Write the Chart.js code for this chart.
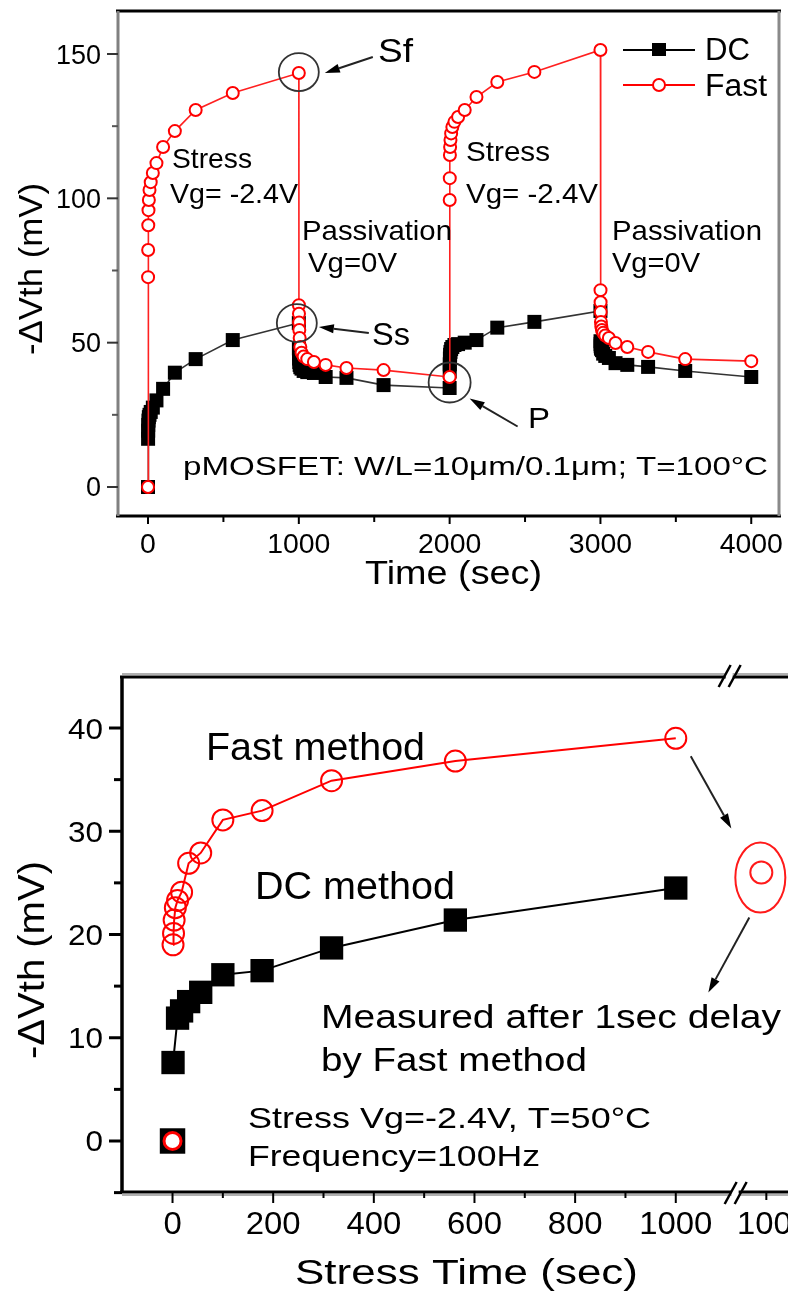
<!DOCTYPE html>
<html>
<head>
<meta charset="utf-8">
<title>NBTI recovery</title>
<script src="https://cdn.jsdelivr.net/npm/chart.js@4.4.1/dist/chart.umd.min.js"></script>
<style>
  html, body { margin: 0; padding: 0; background: #fff; }
  body { width: 788px; height: 1295px; position: relative; overflow: hidden; }
  canvas { position: absolute; left: 0; }
  #cycleChart { top: 0; }
  #stressChart { top: 600px; }
</style>
</head>
<body>
<canvas id="cycleChart" width="788" height="600"></canvas>
<canvas id="stressChart" width="788" height="695"></canvas>
<script>
// ---- upper panel: two stress / passivation cycles, T=100C ----
// every phase lasts 1000 s, points are taken on a log-like grid inside each phase
const phaseStarts = [0, 1000, 2000, 3000];
const phaseOffsets = [0.5, 1, 1.8, 3.2, 5.6, 10, 18, 32, 56, 100, 178, 316, 562, 1000];

const fastStress1 = [72.7, 82.1, 90.7, 95.9, 99.4, 102.9, 105.6, 108.8, 112.2, 117.8, 123.3, 130.6, 136.5, 143.4];
const fastPassiv1 = [63.0, 60.0, 57.0, 54.4, 51.6, 48.5, 46.5, 45.2, 44.3, 43.3, 42.3, 41.2, 40.5, 38.1];
const fastStress2 = [99.4, 107.0, 115.0, 117.8, 120.2, 122.5, 124.7, 126.5, 128.2, 130.6, 135.1, 140.3, 143.8, 151.4];
const fastPassiv2 = [68.2, 64.0, 60.6, 57.2, 55.6, 54.4, 53.4, 52.5, 51.6, 49.9, 48.5, 46.8, 44.3, 43.6];

const dcStress1 = [16.7, 19.5, 21.5, 23.0, 24.2, 25.0, 26.0, 27.5, 30.0, 34.0, 39.6, 44.3, 50.9, 56.8];
const dcPassiv1 = [48.0, 46.0, 44.5, 43.3, 42.3, 41.5, 41.0, 40.2, 39.8, 39.5, 38.1, 37.8, 35.3, 34.3];
const dcStress2 = [40.0, 42.5, 44.5, 45.8, 46.8, 47.8, 48.5, 49.2, 49.5, 50.0, 50.9, 55.2, 57.2, 61.0];
const dcPassiv2 = [50.5, 49.5, 48.8, 48.2, 47.8, 47.4, 46.2, 45.4, 44.7, 42.9, 42.3, 41.6, 40.2, 38.1];

const cycleXTicks = [0, 1000, 2000, 3000, 4000];
const cycleXMinor = [500, 1500, 2500, 3500];
const cycleYTicks = [0, 50, 100, 150];
const cycleYMinor = [25, 75, 125];

// ---- lower panel: stress only, T=50C ----
const fastTime = [1, 2, 3.2, 5.6, 10, 18, 32, 56, 100, 178, 316, 562, 1000];
const fastShift = [19.0, 20.1, 21.4, 22.6, 23.3, 24.1, 26.9, 27.9, 31.1, 32.0, 34.9, 36.8, 39.0];
const dcTime = [1, 10, 18, 32, 56, 100, 178, 316, 562, 1000];
const dcShift = [7.6, 11.9, 12.6, 13.5, 14.4, 16.1, 16.5, 18.7, 21.4, 24.5];
const delayedTime = [1000];
const delayedShift = [26.0];
const startTime = [0];
const startShift = [0];

const stressXTicks = [0, 200, 400, 600, 800, 1000];
const stressXMinor = [100, 300, 500, 700, 900];
const stressYTicks = [0, 10, 20, 30, 40];
const stressYMinor = [-5, 5, 15, 25, 35];

// the delayed reading sits to the right of the axis break
const breakAt = 1113;
const breakShift = 170;

const FONT = '"Liberation Sans", Arial, Helvetica, sans-serif';

function phaseSeries(valuesByPhase) {
  const pts = [{ x: 0, y: 0 }];
  valuesByPhase.forEach((vals, p) => {
    vals.forEach((v, i) => pts.push({ x: phaseStarts[p] + phaseOffsets[i], y: v }));
  });
  return pts;
}

function pairs(xs, ys, shift) {
  return xs.map((t, i) => ({ x: t + (shift || 0), y: ys[i] }));
}

// text squeezed/stretched horizontally to a given width
function fitText(ctx, str, x, y, size, width, align) {
  ctx.save();
  ctx.font = size + 'px ' + FONT;
  ctx.textBaseline = 'alphabetic';
  ctx.textAlign = 'left';
  const w = ctx.measureText(str).width;
  const sx = width ? width / w : 1;
  const drawn = w * sx;
  let left = x;
  if (align === 'center') left = x - drawn / 2;
  if (align === 'right') left = x - drawn;
  ctx.translate(left, y);
  ctx.scale(sx, 1);
  ctx.fillStyle = '#000';
  ctx.fillText(str, 0, 0);
  ctx.restore();
}

function vTitle(ctx, str, baseX, centerY, size, length) {
  ctx.save();
  ctx.translate(baseX, centerY);
  ctx.rotate(-Math.PI / 2);
  fitText(ctx, str, 0, 0, size, length, 'center');
  ctx.restore();
}

function seg(ctx, x1, y1, x2, y2, w, color) {
  ctx.save();
  ctx.strokeStyle = color;
  ctx.lineWidth = w;
  ctx.beginPath();
  ctx.moveTo(x1, y1);
  ctx.lineTo(x2, y2);
  ctx.stroke();
  ctx.restore();
}

function arrow(ctx, x1, y1, x2, y2) {
  const a = Math.atan2(y2 - y1, x2 - x1);
  const len = 15, half = 4.5;
  const bx = x2 - len * Math.cos(a), by = y2 - len * Math.sin(a);
  seg(ctx, x1, y1, bx, by, 2, '#222');
  ctx.save();
  ctx.fillStyle = '#000';
  ctx.beginPath();
  ctx.moveTo(x2, y2);
  ctx.lineTo(bx + half * Math.sin(a), by - half * Math.cos(a));
  ctx.lineTo(bx - half * Math.sin(a), by + half * Math.cos(a));
  ctx.closePath();
  ctx.fill();
  ctx.restore();
}

function ring(ctx, cx, cy, rx, ry, w, color) {
  ctx.save();
  ctx.strokeStyle = color;
  ctx.lineWidth = w;
  ctx.beginPath();
  ctx.ellipse(cx, cy, rx, ry, 0, 0, Math.PI * 2);
  ctx.stroke();
  ctx.restore();
}

const cyclePlugin = {
  id: 'cycleDecor',
  afterDraw(chart) {
    const { ctx, chartArea: a, scales: { x, y } } = chart;

    // frame: black top/bottom, grey left/right
    seg(ctx, a.left - 2, a.top, a.right + 2, a.top, 3, '#000');
    seg(ctx, a.left - 2, a.bottom, a.right + 2, a.bottom, 3, '#000');
    seg(ctx, a.left, a.top, a.left, a.bottom, 3, '#808080');
    seg(ctx, a.right, a.top, a.right, a.bottom, 3, '#8a8a8a');

    cycleYTicks.forEach(v => {
      const py = y.getPixelForValue(v);
      seg(ctx, a.left - 11, py, a.left, py, 2, '#333');
      fitText(ctx, String(v), a.left - 17, py + 9.5, 27, String(v).length * 15, 'right');
    });
    cycleYMinor.forEach(v => {
      const py = y.getPixelForValue(v);
      seg(ctx, a.left - 6, py, a.left, py, 2, '#555');
    });
    cycleXTicks.forEach(v => {
      const px = x.getPixelForValue(v);
      seg(ctx, px, a.bottom, px, a.bottom + 8, 2, '#000');
      fitText(ctx, String(v), px, 553, 28, String(v).length * 15.8, 'center');
    });
    cycleXMinor.forEach(v => {
      const px = x.getPixelForValue(v);
      seg(ctx, px, a.bottom, px, a.bottom + 6, 2, '#000');
    });

    fitText(ctx, 'Time (sec)', 365, 584, 34, 177, 'left');
    vTitle(ctx, '-\u0394Vth (mV)', 42, 269, 34, 172);

    // legend
    seg(ctx, 623, 50, 695, 50, 2, '#000');
    ctx.fillStyle = '#000';
    ctx.fillRect(652, 43, 14, 13);
    fitText(ctx, 'DC', 705, 60, 31, 45, 'left');
    seg(ctx, 623, 85, 695, 85, 2, '#ff0000');
    ctx.save();
    ctx.fillStyle = '#fff';
    ctx.strokeStyle = '#ff0000';
    ctx.lineWidth = 2;
    ctx.beginPath();
    ctx.arc(659, 85, 6, 0, Math.PI * 2);
    ctx.fill();
    ctx.stroke();
    ctx.restore();
    fitText(ctx, 'Fast', 705, 96, 31, 62, 'left');

    // phase labels
    fitText(ctx, 'Stress', 172, 168, 28, 80, 'left');
    fitText(ctx, 'Vg= -2.4V', 170, 203, 28, 128, 'left');
    fitText(ctx, 'Passivation', 302, 240, 28, 150, 'left');
    fitText(ctx, 'Vg=0V', 308, 272, 28, 89, 'left');
    fitText(ctx, 'Stress', 466, 161, 28, 84, 'left');
    fitText(ctx, 'Vg= -2.4V', 466, 203, 28, 132, 'left');
    fitText(ctx, 'Passivation', 612, 240, 28, 150, 'left');
    fitText(ctx, 'Vg=0V', 612, 272, 28, 88, 'left');
    fitText(ctx, 'pMOSFET: W/L=10\u03bcm/0.1\u03bcm; T=100\u00b0C', 183, 475, 26, 585, 'left');

    // Sf: end of first stress, fast reading
    const sfx = x.getPixelForValue(1000), sfy = y.getPixelForValue(fastStress1[13]);
    ring(ctx, sfx, sfy - 1, 20, 19, 1.8, '#333');
    arrow(ctx, sfx + 74, sfy - 16, sfx + 26, sfy);
    fitText(ctx, 'Sf', 378, 62, 33, 35, 'left');

    // Ss: end of first stress, DC reading
    const ssx = x.getPixelForValue(1000), ssy = y.getPixelForValue(dcStress1[13]);
    ring(ctx, ssx - 2, ssy, 20, 19, 1.8, '#333');
    arrow(ctx, ssx + 70, ssy + 10, ssx + 20, ssy + 4);
    fitText(ctx, 'Ss', 372, 345, 32, 38, 'left');

    // P: end of first passivation
    const px = x.getPixelForValue(2000);
    const py = (y.getPixelForValue(fastPassiv1[13]) + y.getPixelForValue(dcPassiv1[13])) / 2;
    ring(ctx, px, py, 21, 20, 1.8, '#333');
    arrow(ctx, px + 68, py + 44, px + 20, py + 16);
    fitText(ctx, 'P', 528, 428, 30, 22, 'left');
  }
};

new Chart(document.getElementById('cycleChart'), {
  type: 'scatter',
  data: {
    datasets: [
      {
        label: 'Fast',
        data: phaseSeries([fastStress1, fastPassiv1, fastStress2, fastPassiv2]),
        showLine: true,
        borderColor: '#ff2020',
        borderWidth: 1.6,
        pointStyle: 'circle',
        pointRadius: 6,
        pointBorderWidth: 2,
        pointBorderColor: '#ff0000',
        pointBackgroundColor: '#ffffff',
        order: 0
      },
      {
        label: 'DC',
        data: phaseSeries([dcStress1, dcPassiv1, dcStress2, dcPassiv2]),
        showLine: true,
        borderColor: '#333',
        borderWidth: 1.6,
        pointStyle: 'rect',
        pointRadius: 9.9,
        pointBorderWidth: 0,
        pointBackgroundColor: '#000',
        order: 1
      }
    ]
  },
  options: {
    responsive: false,
    animation: false,
    events: [],
    layout: { autoPadding: false, padding: { left: 118, top: 11, right: 9, bottom: 84 } },
    plugins: { legend: { display: false }, tooltip: { enabled: false } },
    elements: { line: { tension: 0 } },
    scales: {
      x: { type: 'linear', display: false, min: -199, max: 4184 },
      y: { type: 'linear', display: false, min: -10.05, max: 164.9 }
    }
  },
  plugins: [cyclePlugin]
});

const stressPlugin = {
  id: 'stressDecor',
  afterDraw(chart) {
    const { ctx, chartArea: a, scales: { x, y } } = chart;
    const gapL = x.getPixelForValue(breakAt) - 12;

    // frame with an axis break
    seg(ctx, a.left, a.top - 3, a.right, a.top - 3, 2, '#b0b0b0');
    seg(ctx, a.left - 2, a.top, a.right, a.top, 3, '#000');
    seg(ctx, a.left, a.bottom + 3, a.right, a.bottom + 3, 2, '#b0b0b0');
    seg(ctx, a.left - 2, a.bottom, a.right, a.bottom, 3, '#000');
    seg(ctx, a.left, a.top, a.left, a.bottom + 1, 3.5, '#000');

    [[a.top - 1, gapL - 2], [a.bottom + 1, gapL + 4]].forEach(([yy, gx]) => {
      ctx.save();
      ctx.fillStyle = '#fff';
      ctx.fillRect(gx + 7, yy - 6, 7, 12);
      ctx.restore();
      seg(ctx, gx, yy + 11, gx + 12, yy - 11, 2.5, '#000');
      seg(ctx, gx + 10, yy + 11, gx + 22, yy - 11, 2.5, '#000');
    });

    stressYTicks.forEach(v => {
      const py = y.getPixelForValue(v);
      seg(ctx, a.left - 13, py, a.left, py, 3, '#000');
      fitText(ctx, String(v), 103, py + 10.5, 30, String(v).length * 17.5, 'right');
    });
    stressYMinor.forEach(v => {
      const py = y.getPixelForValue(v);
      seg(ctx, a.left - 8, py, a.left, py, 3, '#000');
    });
    stressXTicks.forEach(v => {
      const px = x.getPixelForValue(v);
      seg(ctx, px, a.bottom, px, a.bottom + 11, 2, '#000');
      fitText(ctx, String(v), px, 1234 - 600, 31, String(v).length * 18.3, 'center');
    });
    stressXMinor.forEach(v => {
      const px = x.getPixelForValue(v);
      seg(ctx, px, a.bottom, px, a.bottom + 6, 2, '#000');
    });
    const bx = x.getPixelForValue(delayedTime[0] + breakShift);
    seg(ctx, bx + 5, a.bottom, bx + 5, a.bottom + 8, 2, '#000');
    fitText(ctx, '1000', 737, 1234 - 600, 31, 73, 'left');

    fitText(ctx, 'Stress Time (sec)', 295, 1284 - 600, 35, 343, 'left');
    vTitle(ctx, '-\u0394Vth (mV)', 44, 960 - 600, 36, 198);

    fitText(ctx, 'Fast method', 206, 760 - 600, 39, 219, 'left');
    fitText(ctx, 'DC method', 255, 899 - 600, 39, 200, 'left');
    fitText(ctx, 'Measured after 1sec delay', 321, 1028 - 600, 34, 460, 'left');
    fitText(ctx, 'by Fast method', 321, 1071 - 600, 34, 266, 'left');
    fitText(ctx, 'Stress Vg=-2.4V, T=50\u00b0C', 248, 1128 - 600, 29, 403, 'left');
    fitText(ctx, 'Frequency=100Hz', 248, 1166 - 600, 29, 292, 'left');

    // ellipse round the delayed reading, with arrows
    const ex = x.getPixelForValue(delayedTime[0] + breakShift);
    const ey = y.getPixelForValue(delayedShift[0]);
    ring(ctx, ex - 1, ey + 5, 25, 35, 2, '#ff1a1a');
    const fx = x.getPixelForValue(fastTime[12]), fy = y.getPixelForValue(fastShift[12]);
    arrow(ctx, fx + 15, fy + 18, ex - 30, ey - 44);
    arrow(ctx, ex - 12, ey + 45, ex - 53, ey + 120);
  }
};

new Chart(document.getElementById('stressChart'), {
  type: 'scatter',
  data: {
    datasets: [
      {
        label: 'Fast method',
        data: pairs(fastTime, fastShift),
        showLine: true,
        borderColor: '#ff0000',
        borderWidth: 2,
        pointStyle: 'circle',
        pointRadius: 10.5,
        pointBorderWidth: 2,
        pointBorderColor: '#ff0000',
        pointBackgroundColor: 'rgba(255,255,255,0)',
        order: 1
      },
      {
        label: 'DC method',
        data: pairs(dcTime, dcShift),
        showLine: true,
        borderColor: '#000',
        borderWidth: 2,
        pointStyle: 'rect',
        pointRadius: 16.5,
        pointBorderWidth: 0,
        pointBackgroundColor: '#000',
        order: 2
      },
      {
        label: 'after 1 s delay',
        data: pairs(delayedTime, delayedShift, breakShift),
        showLine: false,
        pointStyle: 'circle',
        pointRadius: 11,
        pointBorderWidth: 2,
        pointBorderColor: '#ff1a1a',
        pointBackgroundColor: '#fff',
        order: 0
      },
      {
        label: 'start fast',
        data: pairs(startTime, startShift),
        showLine: false,
        pointStyle: 'circle',
        pointRadius: 8.5,
        pointBorderWidth: 3,
        pointBorderColor: '#ff0000',
        pointBackgroundColor: '#fff',
        order: 0
      },
      {
        label: 'start DC',
        data: pairs(startTime, startShift),
        showLine: false,
        pointStyle: 'rect',
        pointRadius: 18,
        pointBorderWidth: 0,
        pointBackgroundColor: '#000',
        order: 3
      }
    ]
  },
  options: {
    responsive: false,
    animation: false,
    events: [],
    layout: { autoPadding: false, padding: { left: 122, top: 77, right: 0, bottom: 103 } },
    plugins: { legend: { display: false }, tooltip: { enabled: false } },
    elements: { line: { tension: 0 } },
    scales: {
      x: { type: 'linear', display: false, min: -100.4, max: 1223 },
      y: { type: 'linear', display: false, min: -4.94, max: 44.94 }
    }
  },
  plugins: [stressPlugin]
});
</script>
</body>
</html>
